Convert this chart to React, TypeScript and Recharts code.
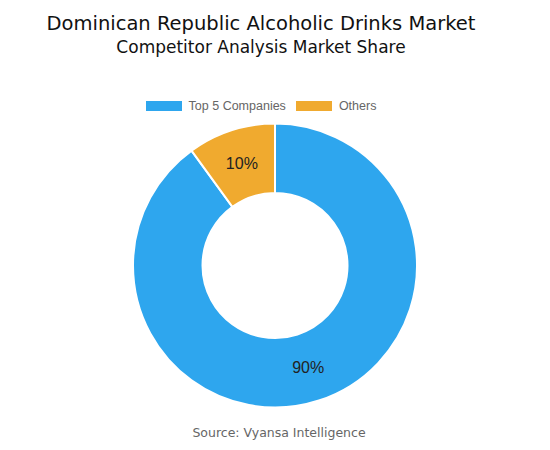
import React from 'react';
import { PieChart, Pie, Cell } from 'recharts';

const segments = ['Top 5 Companies', 'Others'];
const shares = [90, 10];
const colors = ['#2ea6ee', '#f0aa2f'];

const data = segments.map((name, i) => ({ name, value: shares[i] }));

const RADIAN = Math.PI / 180;

const renderLabel = ({ cx, cy, midAngle, innerRadius, outerRadius, value }: any) => {
  const r = (innerRadius + outerRadius) / 2;
  const x = cx + r * Math.cos(-midAngle * RADIAN);
  const y = cy + r * Math.sin(-midAngle * RADIAN);
  return (
    <text
      x={x}
      y={y}
      fill="#222"
      fontSize={16}
      fontFamily="'Liberation Sans', Arial, sans-serif"
      textAnchor="middle"
      dominantBaseline="central"
    >
      {`${value}%`}
    </text>
  );
};

const App: React.FC = () => {
  return (
    <div style={{ position: 'absolute', left: 0, top: 0, width: 550, height: 450, background: '#fff' }}>
      <div style={{ position: 'absolute', top: 12, left: -14, width: 550, textAlign: 'center', fontFamily: "'DejaVu Sans', sans-serif", color: '#111' }}>
        <div style={{ fontSize: 19.5, lineHeight: '24px' }}>Dominican Republic Alcoholic Drinks Market</div>
        <div style={{ fontSize: 17, lineHeight: '22px' }}>Competitor Analysis Market Share</div>
      </div>
      <div style={{ position: 'absolute', top: 99, left: -14, width: 550, display: 'flex', justifyContent: 'center', gap: 10, fontFamily: "'Liberation Sans', Arial, sans-serif", fontSize: 12.5, color: '#666' }}>
        {segments.map((name, i) => (
          <div key={name} style={{ display: 'flex', alignItems: 'center' }}>
            <span style={{ display: 'inline-block', width: 36, height: 10, background: colors[i], marginRight: 7 }} />
            <span>{name}</span>
          </div>
        ))}
      </div>
      <PieChart width={550} height={450} margin={{ top: 0, right: 0, bottom: 0, left: 0 }} style={{ position: 'absolute', left: 0, top: 0 }}>
        <Pie
          data={data}
          dataKey="value"
          nameKey="name"
          cx={275}
          cy={265.5}
          innerRadius={72.5}
          outerRadius={142}
          startAngle={90}
          endAngle={-270}
          stroke="#fff"
          strokeWidth={2}
          label={renderLabel}
          labelLine={false}
          isAnimationActive={false}
        >
          {data.map((d, i) => (
            <Cell key={d.name} fill={colors[i]} />
          ))}
        </Pie>
      </PieChart>
      <div style={{ position: 'absolute', top: 425, left: 4, width: 550, textAlign: 'center', fontFamily: "'DejaVu Sans', sans-serif", fontSize: 12.5, color: '#666' }}>
        Source: Vyansa Intelligence
      </div>
    </div>
  );
};

export default App;
